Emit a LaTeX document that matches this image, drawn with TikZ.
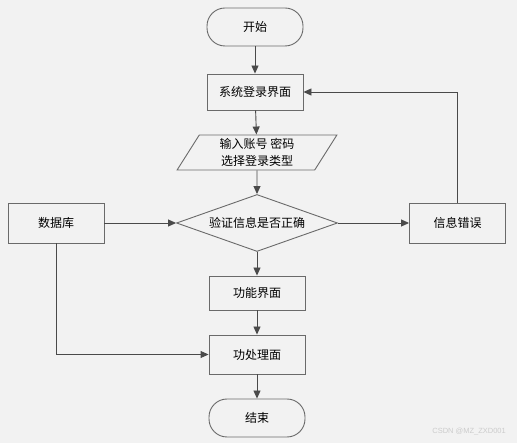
\documentclass[tikz,border=0pt]{standalone}
\usepackage{fontspec}
\setmainfont{Liberation Sans}
\newfontfamily\cjk{Noto Sans CJK SC}
\usetikzlibrary{shapes.geometric,arrows.meta}
\definecolor{bgc}{HTML}{F2F2F2}
\definecolor{edgec}{HTML}{6A6A6A}
\definecolor{arrc}{HTML}{4A4A4A}
\tikzset{
  base/.style={draw=edgec,line width=0.9pt,fill=bgc,font=\cjk\fontsize{12}{17}\selectfont,text=black,inner sep=0pt},
  boxnode/.style={base,rectangle,minimum width=96pt,minimum height=35pt},
  termnode/.style={base,rectangle,rounded corners=18pt,minimum width=96pt,minimum height=38pt},
  ionode/.style={base,trapezium,trapezium left angle=63,trapezium right angle=117,minimum width=160pt,minimum height=35pt,align=center,trapezium stretches=true},
  decnode/.style={base,diamond,aspect=2.85,minimum width=161pt,minimum height=57pt,inner sep=0pt},
  conn/.style={draw=arrc,line width=0.9pt,-{Triangle[length=8pt,width=7pt]}},
  plainconn/.style={draw=arrc,line width=0.9pt}
}
\begin{document}
\begin{tikzpicture}[x=1pt,y=-1pt]
\fill[bgc] (0,0) rectangle (517,443);
\useasboundingbox (0,0) rectangle (517,443);
\node[termnode] (start) at (255,27) {开始};
\node[boxnode,minimum height=36pt] (login) at (255,92) {系统登录界面};
\node[ionode] (input) at (257,152.5) {输入账号 密码\\选择登录类型};
\node[decnode] (check) at (257,223) {验证信息是否正确};
\node[boxnode,minimum height=40pt] (db) at (56,223) {数据库};
\node[boxnode,minimum height=40pt] (err) at (457.5,223) {信息错误};
\node[boxnode,minimum height=34pt] (func) at (257,293) {功能界面};
\node[boxnode,minimum height=39pt] (proc) at (257,354.5) {功处理面};
\node[termnode] (end) at (257,418) {结束};
\draw[conn] (start) -- (login);
\draw[conn] (login) -- (input);
\draw[conn] (input) -- (check);
\draw[conn] (check) -- (func);
\draw[conn] (func) -- (proc);
\draw[conn] (proc) -- (end);
\draw[conn] (db) -- (check);
\draw[conn] (check) -- (err);
\draw[conn] (err.north) |- (login.east);
\draw[conn] (db.south) |- (proc.west);
\node[font=\fontsize{7.5}{9}\selectfont,text=black!20,anchor=east,inner sep=0pt] (wm) at (506,432) {CSDN @MZ\_ZXD001};
\end{tikzpicture}
\end{document}
